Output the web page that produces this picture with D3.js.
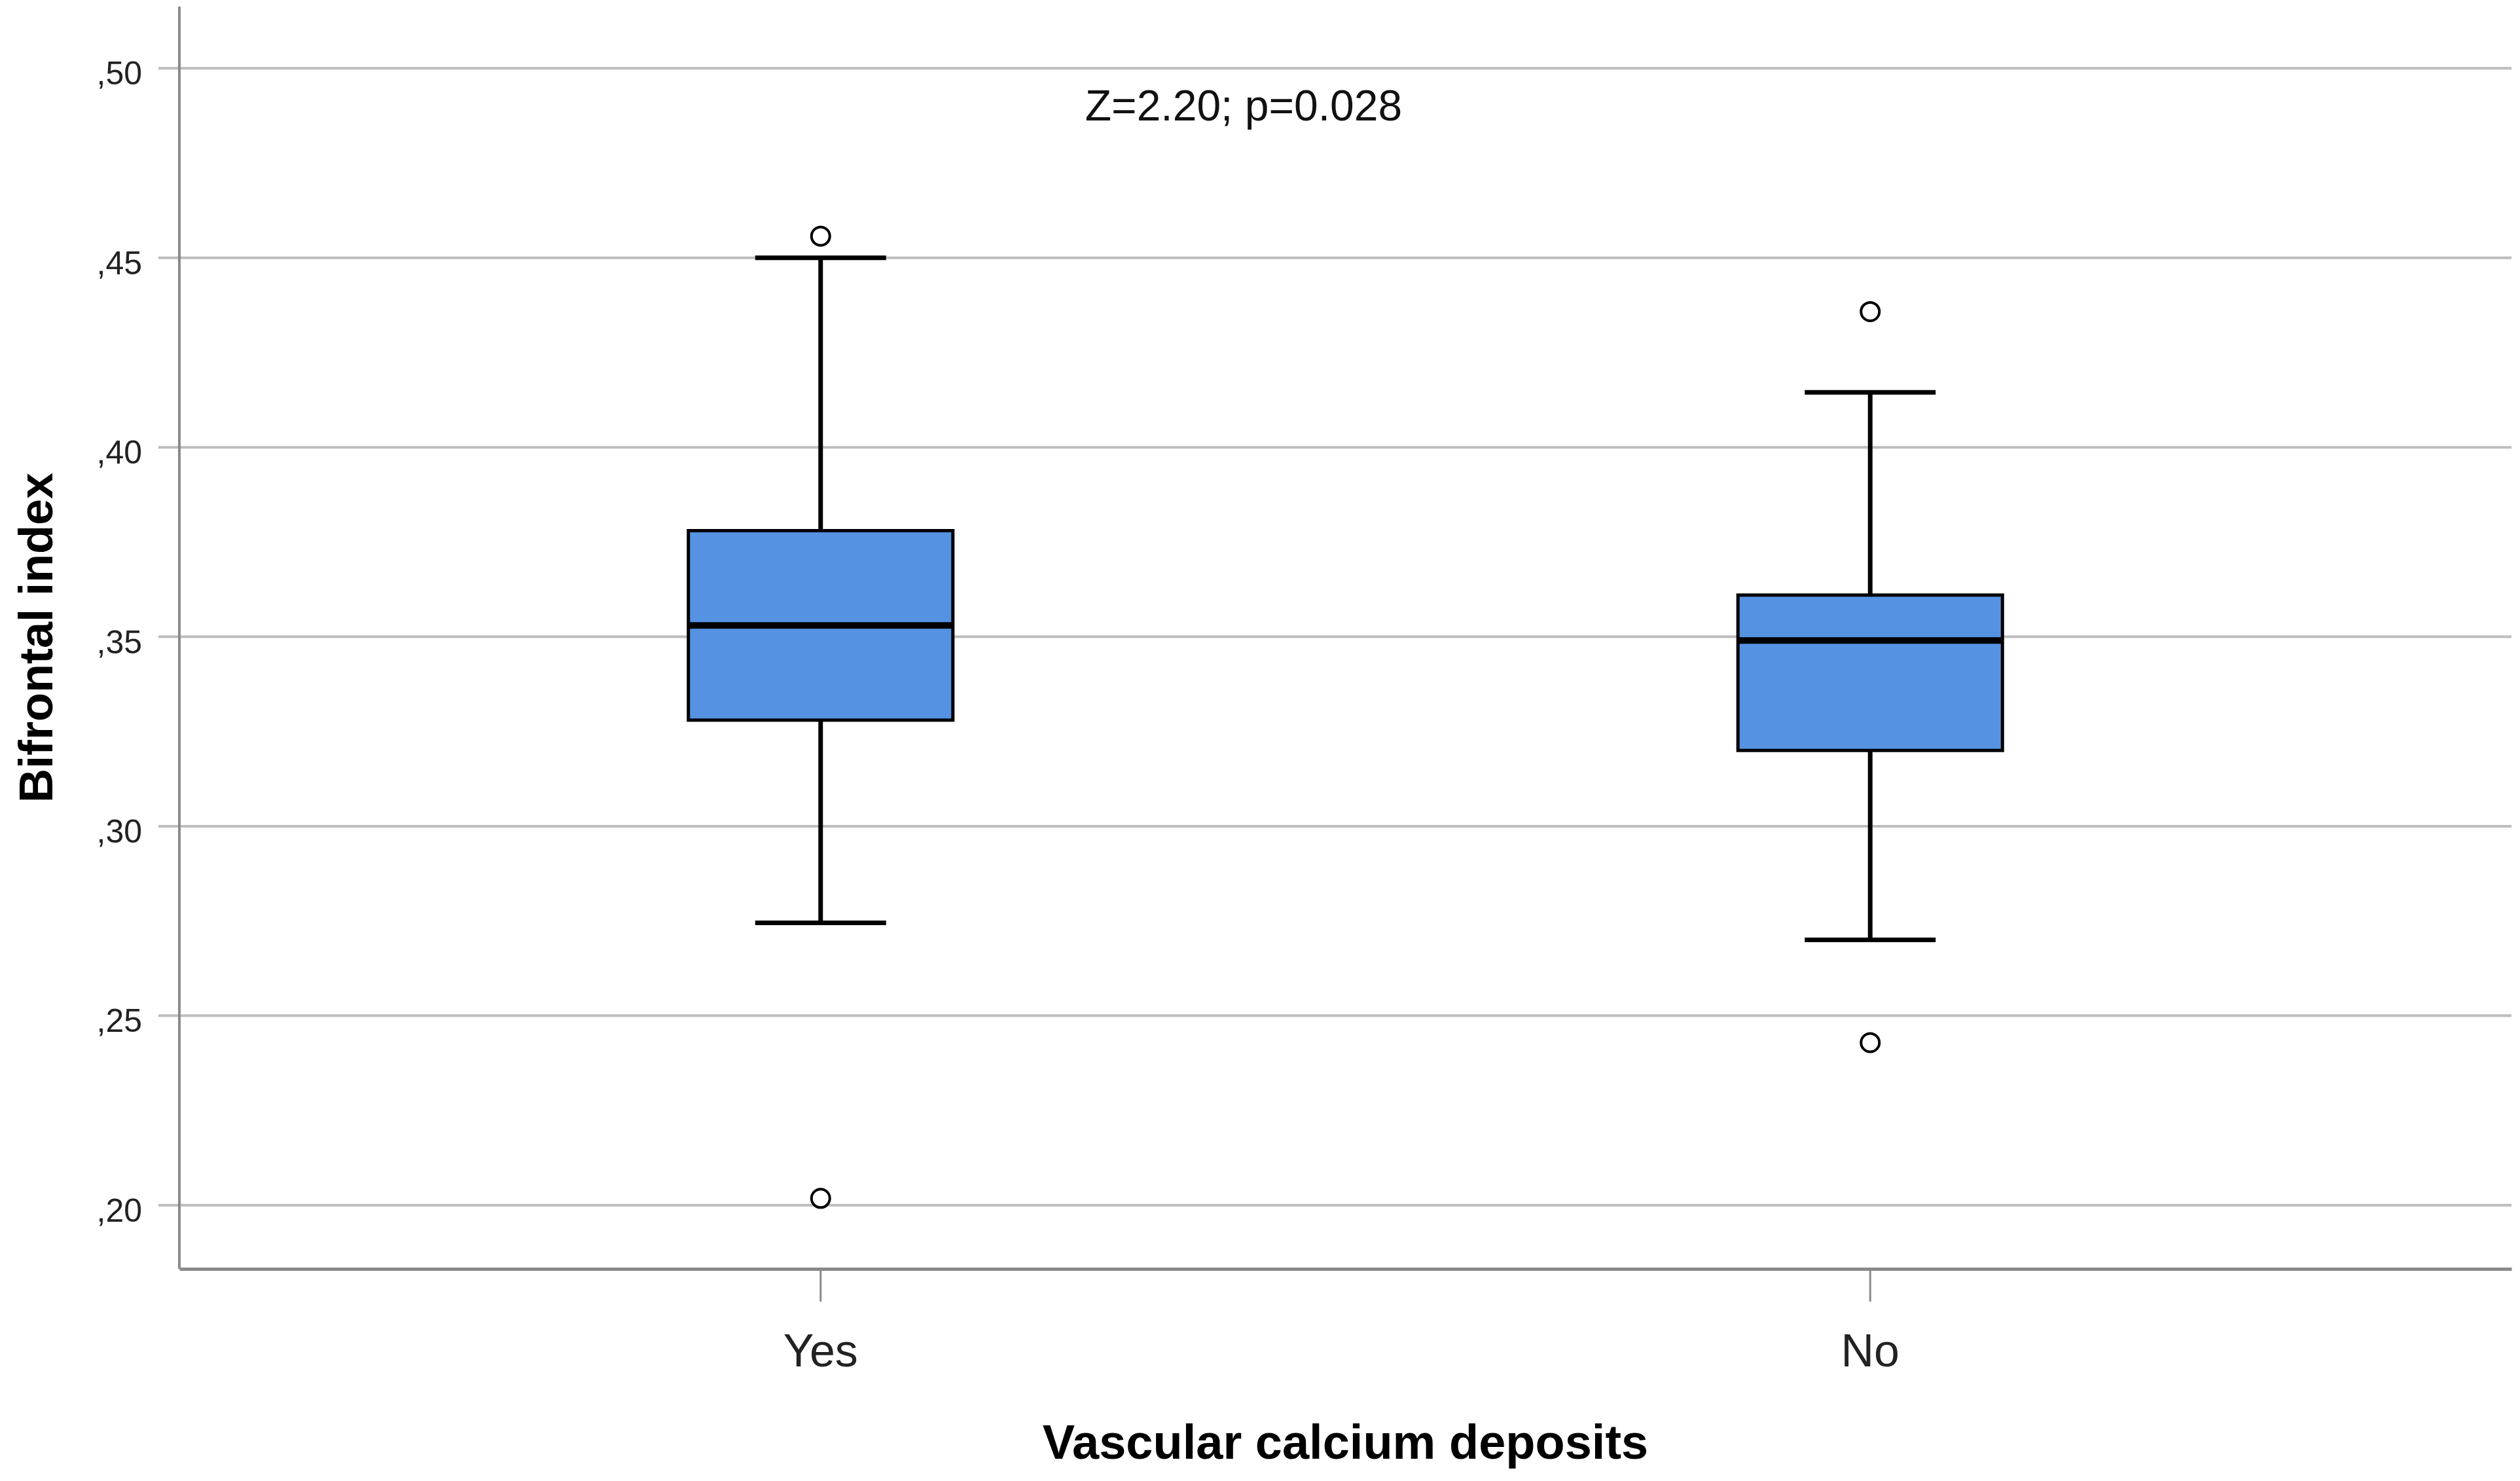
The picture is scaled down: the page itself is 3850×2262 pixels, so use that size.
<!DOCTYPE html>
<html>
<head>
<meta charset="utf-8">
<script src="https://cdn.jsdelivr.net/npm/d3@7"></script>
<style>
  body { margin: 0; background: #fff; }
  svg { display: block; font-family: Arial, "Liberation Sans", sans-serif; }
</style>
</head>
<body>
<svg width="3850" height="2262"></svg>
<script>
// Define SVG dimensions
const width = 3850
const height = 2262

// data
const categories = ["Yes", "No"]
const q1 = [0.328, 0.320]
const median = [0.353, 0.349]
const q3 = [0.378, 0.361]
const whiskerLow = [0.2745, 0.270]
const whiskerHigh = [0.450, 0.4145]
const outlierCats = ["Yes", "Yes", "No", "No"]
const outlierValues = [0.4557, 0.2018, 0.4358, 0.2429]
const yTicks = [0.20, 0.25, 0.30, 0.35, 0.40, 0.45, 0.50]
const note = "Z=2.20; p=0.028"

// plot area edges
const plotLeft = 274, plotRight = 3837, plotTop = 10, plotBottom = 1938

const svg = d3.select("svg")
svg.append("rect").attr("width", width).attr("height", height).attr("fill", "#fff")

const x = d3.scaleBand()
  .domain(categories)
  .range([plotLeft, plotRight])
  .paddingInner(0.748)
  .paddingOuter(0.485)

const y = d3.scaleLinear()
  .domain([0.1832, 0.5163])
  .range([plotBottom, plotTop])

const fmt = v => d3.format(".2f")(v).replace("0.", ",")

//################### grid + axes ####################

// gridlines (they also act as the y ticks)
svg.append("g")
  .selectAll("line")
  .data(yTicks)
  .join("line")
  .attr("x1", plotLeft - 32)
  .attr("x2", plotRight)
  .attr("y1", d => y(d))
  .attr("y2", d => y(d))
  .attr("stroke", "#bdbdbd")
  .attr("stroke-width", 4)

svg.append("g")
  .selectAll("text")
  .data(yTicks)
  .join("text")
  .attr("x", 217)
  .attr("y", d => y(d) + 25)
  .attr("text-anchor", "end")
  .attr("font-size", 50)
  .attr("fill", "#222")
  .text(fmt)

// axis lines
svg.append("line")
  .attr("x1", plotLeft).attr("x2", plotLeft)
  .attr("y1", plotTop).attr("y2", plotBottom)
  .attr("stroke", "#8a8a8a").attr("stroke-width", 4)

const xAxis = d3.axisBottom(x).tickSize(50).tickSizeOuter(0)
const xg = svg.append("g")
  .attr("transform", "translate(0," + plotBottom + ")")
  .call(xAxis)
xg.select(".domain")
  .attr("stroke", "#8a8a8a")
  .attr("stroke-width", 5)
xg.selectAll(".tick line")
  .attr("stroke", "#8a8a8a")
  .attr("stroke-width", 3)
xg.selectAll(".tick text")
  .attr("font-size", 70)
  .attr("font-family", "Arial, 'Liberation Sans', sans-serif")
  .attr("fill", "#222")
  .attr("dy", null)
  .attr("y", 149)

//################### boxes ####################

const bw = x.bandwidth()
const cx = d => x(d) + bw / 2
const capHalf = 100

const boxes = svg.append("g")
  .selectAll("g")
  .data(categories)
  .join("g")

// whisker stems
boxes.append("line")
  .attr("x1", cx).attr("x2", cx)
  .attr("y1", (d, i) => y(whiskerHigh[i]))
  .attr("y2", (d, i) => y(whiskerLow[i]))
  .attr("stroke", "#000").attr("stroke-width", 7)

// caps
boxes.append("line")
  .attr("x1", d => cx(d) - capHalf).attr("x2", d => cx(d) + capHalf)
  .attr("y1", (d, i) => y(whiskerHigh[i]))
  .attr("y2", (d, i) => y(whiskerHigh[i]))
  .attr("stroke", "#000").attr("stroke-width", 7)
boxes.append("line")
  .attr("x1", d => cx(d) - capHalf).attr("x2", d => cx(d) + capHalf)
  .attr("y1", (d, i) => y(whiskerLow[i]))
  .attr("y2", (d, i) => y(whiskerLow[i]))
  .attr("stroke", "#000").attr("stroke-width", 7)

// box
boxes.append("rect")
  .attr("x", d => x(d))
  .attr("width", bw)
  .attr("y", (d, i) => y(q3[i]))
  .attr("height", (d, i) => y(q1[i]) - y(q3[i]))
  .attr("fill", "#5592e2")
  .attr("stroke", "#000")
  .attr("stroke-width", 5)

// median
boxes.append("line")
  .attr("x1", d => x(d)).attr("x2", d => x(d) + bw)
  .attr("y1", (d, i) => y(median[i]))
  .attr("y2", (d, i) => y(median[i]))
  .attr("stroke", "#000").attr("stroke-width", 10)

// outliers
svg.append("g")
  .selectAll("circle")
  .data(outlierValues)
  .join("circle")
  .attr("cx", (d, i) => cx(outlierCats[i]))
  .attr("cy", d => y(d))
  .attr("r", 14)
  .attr("fill", "#fff")
  .attr("stroke", "#000")
  .attr("stroke-width", 4)

//################### texts ####################

svg.append("text")
  .attr("x", 1900)
  .attr("y", 184)
  .attr("text-anchor", "middle")
  .attr("font-size", 66)
  .attr("fill", "#111")
  .text(note)

svg.append("text")
  .attr("x", (plotLeft + plotRight) / 2)
  .attr("y", 2228)
  .attr("text-anchor", "middle")
  .attr("font-size", 74)
  .attr("font-weight", "bold")
  .attr("fill", "#000")
  .text("Vascular calcium deposits")

svg.append("text")
  .attr("transform", "translate(80," + (plotTop + plotBottom) / 2 + ") rotate(-90)")
  .attr("text-anchor", "middle")
  .attr("font-size", 72)
  .attr("font-weight", "bold")
  .attr("fill", "#000")
  .text("Bifrontal index")
</script>
</body>
</html>
